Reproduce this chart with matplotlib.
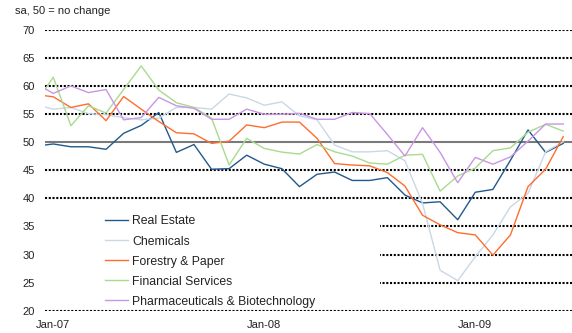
import matplotlib
matplotlib.use("Agg")
import matplotlib.pyplot as plt
from matplotlib.patches import Rectangle

plt.rcParams['font.family'] = ['Liberation Sans', 'DejaVu Sans']

# Monthly, Dec-06 .. Jun-09 (Dec-06 is clipped at the left edge)
months = ['Dec-06',
          'Jan-07', 'Feb-07', 'Mar-07', 'Apr-07', 'May-07', 'Jun-07', 'Jul-07', 'Aug-07', 'Sep-07', 'Oct-07', 'Nov-07', 'Dec-07',
          'Jan-08', 'Feb-08', 'Mar-08', 'Apr-08', 'May-08', 'Jun-08', 'Jul-08', 'Aug-08', 'Sep-08', 'Oct-08', 'Nov-08', 'Dec-08',
          'Jan-09', 'Feb-09', 'Mar-09', 'Apr-09', 'May-09', 'Jun-09']

real_estate = [49.3,
               49.7, 49.2, 49.2, 48.75, 51.6, 53.0, 55.3, 48.2, 49.6, 45.2, 45.3, 47.7,
               46.1, 45.3, 42.1, 44.3, 44.7, 43.2, 43.2, 43.7, 40.6, 39.2, 39.4, 36.2,
               41.1, 41.6, 46.8, 52.2, 48.2, 49.8]
chemicals = [56.7,
             55.9, 56.2, 55.1, 54.9, 54.4, 54.0, 54.3, 56.2, 56.2, 55.9, 58.6, 57.9,
             56.6, 57.2, 54.7, 54.0, 49.5, 48.3, 48.3, 48.5, 46.7, 39.1, 27.2, 25.35,
             29.6, 33.5, 38.5, 40.9, 48.3, 50.1]
forestry = [58.5,
            58.1, 56.2, 56.85, 53.85, 58.15, 55.9, 53.7, 51.7, 51.5, 49.8, 50.2, 53.1,
            52.6, 53.6, 53.6, 50.7, 46.2, 45.95, 45.8, 44.6, 42.2, 37.0, 35.3, 33.9,
            33.5, 29.9, 33.5, 42.1, 45.2, 51.0]
financial = [57.0,
             61.6, 52.95, 56.5, 55.2, 59.4, 63.6, 59.3, 57.05, 56.2, 54.3, 45.95, 50.7,
             48.9, 48.25, 47.9, 49.6, 48.3, 47.55, 46.3, 46.1, 47.7, 47.85, 41.3, 44.0,
             45.4, 48.5, 49.0, 51.8, 53.2, 52.0]
pharma = [60.5,
          58.7, 60.05, 58.85, 59.4, 54.0, 54.4, 58.0, 56.5, 56.05, 54.1, 54.1, 55.9,
          55.0, 55.0, 55.15, 54.1, 54.1, 55.3, 55.1, 51.4, 47.55, 52.6, 48.2, 42.8,
          47.3, 46.1, 47.4, 50.2, 53.25, 53.25]

series_names = ['Real Estate', 'Chemicals', 'Forestry & Paper', 'Financial Services',
                'Pharmaceuticals & Biotechnology']
series_values = [real_estate, chemicals, forestry, financial, pharma]
colors = ['#22598a', '#c8d8e6', '#ff6d2d', '#a8db8e', '#c996e3']

yticks = [20, 25, 30, 35, 40, 45, 50, 55, 60, 65, 70]
xtick_labels = ['Jan-07', 'Jan-08', 'Jan-09']

fig = plt.figure(figsize=(5.72, 3.33), dpi=100)
ax = fig.add_axes([44.5 / 572, 1 - 310.7 / 333, 1 - 44.5 / 572, (310.7 - 30) / 333])

x = list(range(-1, len(months) - 1))  # Jan-07 = 0

# gridlines (dotted), 50 solid
ax.hlines([v for v in yticks if v != 50], -0.5, len(months) - 1.5, colors='black',
          linestyles=(0, (1, 0.8)), linewidth=1.5, zorder=1)
ax.axhline(50, color='#7a7a7a', linewidth=1.5, zorder=2)

# white legend panel covering gridlines
ax.add_patch(Rectangle((0, 0.018), 0.636, 0.358, transform=ax.transAxes,
                       facecolor='white', edgecolor='none', zorder=3))

for name, vals, c in zip(series_names, series_values, colors):
    ax.plot(x, vals, color=c, linewidth=1.0, label=name, zorder=4)

ax.set_xlim(-0.5, len(months) - 1.5)
ax.set_ylim(20, 70)
ax.set_yticks(yticks)
ax.set_yticklabels([str(v) for v in yticks])
ax.set_xticks([months.index(l) - 1 for l in xtick_labels])
ax.set_xticklabels(xtick_labels)
ax.tick_params(axis='both', length=0, labelsize=8, colors='#222222')
ax.tick_params(axis='y', pad=7)
ax.tick_params(axis='x', pad=7)
for s in ax.spines.values():
    s.set_visible(False)

leg = ax.legend(loc='upper left', bbox_to_anchor=(105 / 572, 1 - 215.5 / 333),
                bbox_transform=fig.transFigure, frameon=False, fontsize=8.8,
                handlelength=1.9, handletextpad=0.33, labelspacing=0.66, borderpad=0,
                borderaxespad=0)
for t in leg.get_texts():
    t.set_color('#222222')

fig.text(15 / 572, 1 - 10.5 / 333, 'sa, 50 = no change', fontsize=8, color='#222222',
         ha='left', va='center')

fig.savefig('out.png', dpi=100)
